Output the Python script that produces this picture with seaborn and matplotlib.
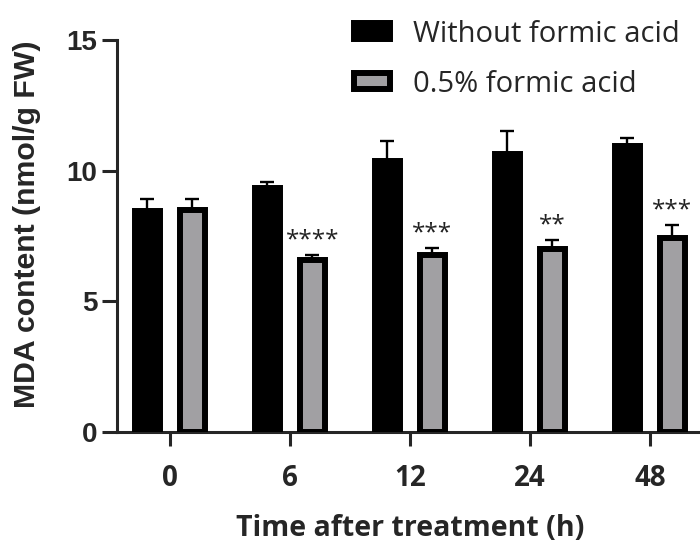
import matplotlib
matplotlib.use('Agg')
import matplotlib.pyplot as plt
import seaborn as sns
import pandas as pd
import numpy as np

# ── Data ─────────────────────────────────────────────────────
times = ['0', '6', '12', '24', '48']
groups = ['Without formic acid', '0.5% formic acid']
mda_control = [8.47, 9.33, 10.36, 10.62, 10.93]
mda_formic = [8.50, 6.57, 6.78, 7.00, 7.41]
err_control = [0.45, 0.24, 0.76, 0.88, 0.32]
err_formic = [0.42, 0.20, 0.25, 0.35, 0.51]
stars_formic = ['', '****', '***', '**', '***']

df = pd.DataFrame({
    'time': times * 2,
    'group': [groups[0]] * len(times) + [groups[1]] * len(times),
    'mda': mda_control + mda_formic,
})

sns.set_style('ticks')
plt.rcParams['font.family'] = ['Open Sans', 'DejaVu Sans']

fig = plt.figure(figsize=(7, 5.45), dpi=100)
# right end of the x axis runs off the figure edge, as in the original
ax = fig.add_axes([0.167, 0.2073, 0.8386, 0.7193])

sns.barplot(data=df, x='time', y='mda', hue='group', order=times,
            hue_order=groups, palette=['#000000', '#a19fa4'],
            width=0.75, gap=0.44, errorbar=None,
            edgecolor='black', linewidth=4.3, ax=ax, zorder=3)

# ── Error bars (upper only) + significance marks ─────────────
errs = [err_control, err_formic]
bar_sets = list(ax.containers)
for k, cont in enumerate(bar_sets):
    xs = [b.get_x() + b.get_width() / 2 for b in cont]
    hs = [b.get_height() for b in cont]
    ax.errorbar(xs, hs, yerr=[np.zeros(len(hs)), errs[k]], fmt='none',
                ecolor='black', elinewidth=1.7, capsize=4.7, capthick=1.7,
                zorder=2)
    if k == 1:
        for x, h, e, s in zip(xs, hs, errs[k], stars_formic):
            if s:
                ax.annotate(s, (x, h + e), xytext=(0, 2), textcoords='offset points',
                            ha='center', va='bottom', fontsize=17.5, color='#222222')

ax.set_ylim(0, 15)
ax.set_xlim(-0.44, 4.45)
ax.set_yticks([0, 5, 10, 15])
ax.set_yticklabels(['0', '5', '10', '15'], family='Liberation Sans',
                   fontweight='bold', fontsize=20)
ax.set_xticklabels(times, fontweight='bold', fontsize=20)
ax.tick_params(axis='y', length=11, width=2.2, pad=3)
ax.tick_params(axis='x', length=10, width=2.2, pad=13)

ax.set_ylabel('MDA content (nmol/g FW)', family='Liberation Sans',
              fontweight='bold', fontsize=21.8)
ax.yaxis.set_label_coords(-0.13, 0.53)
ax.set_xlabel('Time after treatment (h)', fontweight='bold', fontsize=20.5, labelpad=15)

for s in ['left', 'bottom']:
    ax.spines[s].set_linewidth(2.2)
sns.despine(ax=ax)

ax.legend(loc='upper left', bbox_to_anchor=(0.499, 0.972), bbox_transform=fig.transFigure,
          frameon=False, fontsize=21, borderpad=0.15, borderaxespad=0,
          handlelength=1.25, handleheight=0.45, handletextpad=0.78, labelspacing=0.72)

plt.savefig('out.png', dpi=100)
